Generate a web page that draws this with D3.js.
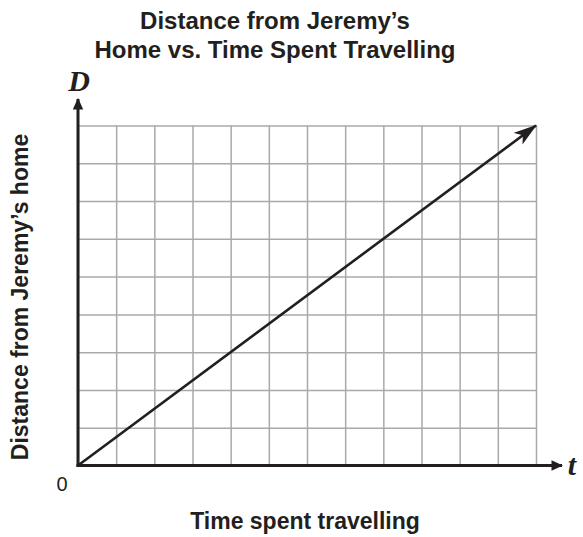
<!DOCTYPE html>
<html>
<head>
<meta charset="utf-8">
<script src="https://cdn.jsdelivr.net/npm/d3@7"></script>
<style>
  body { margin: 0; background: #fff; }
  svg { display: block; }
  text { font-family: "Liberation Sans", Arial, Helvetica, sans-serif; fill: #231f20; }
</style>
</head>
<body>
<svg id="chart" width="583" height="537"></svg>
<script>
// data
var titleLines = ["Distance from Jeremy\u2019s", "Home vs. Time Spent Travelling"];
var xLabel = "Time spent travelling";
var yLabel = "Distance from Jeremy\u2019s home";
var timeTicks = [0, 1, 2, 3, 4, 5, 6, 7, 8, 9, 10, 11, 12];
var distTicks = [0, 1, 2, 3, 4, 5, 6, 7, 8, 9];
var travelT = [0, 12];
var travelD = [0, 9];

var svg = d3.select("#chart"),
    plotLeft = 78, plotRight = 536, plotTop = 125.5, plotBottom = 465.5;

var x = d3.scaleLinear().domain([0, 12]).range([plotLeft, plotRight]);
var y = d3.scaleLinear().domain([0, 9]).range([plotBottom, plotTop]);

var defs = svg.append("defs");
defs.append("marker")
    .attr("id", "head")
    .attr("viewBox", "0 0 10 10")
    .attr("refX", 9.5).attr("refY", 5)
    .attr("markerWidth", 9).attr("markerHeight", 5.6)
    .attr("markerUnits", "strokeWidth")
    .attr("orient", "auto")
    .attr("preserveAspectRatio", "none")
  .append("path")
    .attr("d", "M0,0 L10,5 L0,10 L2.5,5 Z")
    .attr("fill", "#231f20");
defs.append("marker")
    .attr("id", "axhead")
    .attr("viewBox", "0 0 10 10")
    .attr("refX", 9).attr("refY", 5)
    .attr("markerWidth", 3.9).attr("markerHeight", 3.5)
    .attr("markerUnits", "strokeWidth")
    .attr("orient", "auto")
    .attr("preserveAspectRatio", "none")
  .append("path")
    .attr("d", "M0,0 L10,5 L0,10 Z")
    .attr("fill", "#231f20");

// grid
var gx = svg.append("g")
    .attr("transform", "translate(0," + plotBottom + ")")
    .call(d3.axisBottom(x).tickValues(timeTicks).tickSize(-(plotBottom - plotTop)).tickFormat(""));
var gy = svg.append("g")
    .attr("transform", "translate(" + plotLeft + ",0)")
    .call(d3.axisLeft(y).tickValues(distTicks).tickSize(-(plotRight - plotLeft)).tickFormat(""));
[gx, gy].forEach(function(g) {
    g.select(".domain").remove();
    g.selectAll(".tick line").attr("stroke", "#a7a9ac").attr("stroke-width", 1.5);
});

// axes with arrows
svg.append("line")
    .attr("x1", x(0) - 1.5).attr("y1", y(0))
    .attr("x2", 562).attr("y2", y(0))
    .attr("stroke", "#231f20").attr("stroke-width", 3)
    .attr("marker-end", "url(#axhead)");
svg.append("line")
    .attr("x1", x(0)).attr("y1", y(0) + 1.5)
    .attr("x2", x(0)).attr("y2", 99)
    .attr("stroke", "#231f20").attr("stroke-width", 3)
    .attr("marker-end", "url(#axhead)");

// travel line
var pts = travelT.map(function(t, i) { return [t, travelD[i]]; });
svg.append("path")
    .datum(pts)
    .attr("d", d3.line().x(function(d) { return x(d[0]); }).y(function(d) { return y(d[1]); }))
    .attr("fill", "none")
    .attr("stroke", "#231f20").attr("stroke-width", 2.6)
    .attr("marker-end", "url(#head)");

// labels
svg.selectAll(".title").data(titleLines).enter().append("text")
    .attr("x", 275).attr("y", function(d, i) { return 29 + i * 29; })
    .attr("text-anchor", "middle")
    .style("font-size", "24px").style("font-weight", "bold")
    .text(function(d) { return d; });

svg.append("text")
    .attr("x", 305).attr("y", 529)
    .attr("text-anchor", "middle")
    .style("font-size", "23px").style("font-weight", "bold")
    .text(xLabel);

svg.append("text")
    .attr("transform", "translate(28,297) rotate(-90)")
    .attr("text-anchor", "middle")
    .style("font-size", "23px").style("font-weight", "bold")
    .text(yLabel);

svg.append("text")
    .attr("x", 62).attr("y", 491)
    .attr("text-anchor", "middle")
    .style("font-size", "20px")
    .text("0");

svg.append("text")
    .attr("x", 79).attr("y", 91)
    .attr("text-anchor", "middle")
    .style("font-family", "'Liberation Serif', 'DejaVu Serif', serif")
    .style("font-size", "30px").style("font-weight", "bold").style("font-style", "italic")
    .text("D");

svg.append("text")
    .attr("x", 572).attr("y", 475)
    .attr("text-anchor", "middle")
    .style("font-family", "'Liberation Serif', 'DejaVu Serif', serif")
    .style("font-size", "30px").style("font-weight", "bold").style("font-style", "italic")
    .text("t");
</script>
</body>
</html>
